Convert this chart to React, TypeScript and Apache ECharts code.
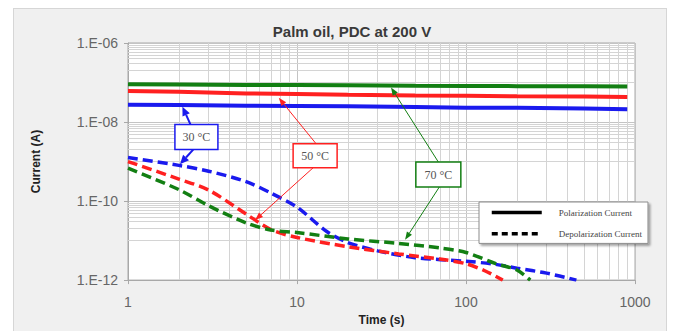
import React, { useEffect, useRef } from "react";
import * as echarts from "echarts";

// ---------- data ----------
const polarTime = [1, 2, 5, 10, 20, 50, 100, 200, 500, 900];
const polar30 = [2.75e-8, 2.7e-8, 2.6e-8, 2.55e-8, 2.5e-8, 2.4e-8, 2.3e-8, 2.3e-8, 2.2e-8, 2.1e-8];
const polar50 = [6.1e-8, 5.8e-8, 5.3e-8, 5.1e-8, 4.9e-8, 4.7e-8, 4.6e-8, 4.5e-8, 4.4e-8, 4.3e-8];
const polar70 = [9.0e-8, 8.9e-8, 8.7e-8, 8.6e-8, 8.5e-8, 8.3e-8, 8.2e-8, 8.1e-8, 8.0e-8, 7.9e-8];

const depolTime30 = [1, 2, 3, 5, 7, 10, 15, 20, 30, 50, 100, 150, 200, 300, 450];
const depol30 = [1.26e-9, 8e-10, 5.7e-10, 3.1e-10, 1.6e-10, 7e-11, 1.7e-11, 8.9e-12, 5.5e-12, 3.7e-12, 3.0e-12, 2.5e-12, 2.0e-12, 1.5e-12, 1.0e-12];

const depolTime50 = [1, 2, 3, 5, 7, 10, 20, 40, 70, 100, 130, 165];
const depol50 = [1.0e-9, 3.6e-10, 1.9e-10, 4.7e-11, 1.9e-11, 1.2e-11, 7e-12, 4.6e-12, 3.4e-12, 2.6e-12, 1.7e-12, 1.0e-12];

const depolTime70 = [1, 2, 3, 5, 7, 10, 20, 40, 70, 100, 150, 200, 240];
const depol70 = [6.8e-10, 1.95e-10, 7.6e-11, 2.8e-11, 1.85e-11, 1.6e-11, 1.1e-11, 8.5e-12, 6.5e-12, 5.0e-12, 2.6e-12, 1.8e-12, 1.0e-12];

const legendNames = ["Polarization Current", "Depolarization Current"];
const tempLabels = ["30 °C", "50 °C", "70 °C"];

// minor gridline values (multiples inside decades)
const yMinorDecades = [1e-11, 1e-9, 1e-7];
const yMinorMult = [1, 2, 3, 4, 5, 6, 7, 8, 9];
const xMinorDecades = [1, 10, 100];
const xMinorMult = [2, 3, 4, 5, 6, 7, 8, 9];
const xRange = [1, 1000];
const yRange = [1e-12, 1e-6];

// annotation anchors in data space [time, current]
const annBox = [[2.54, 4.2e-9], [12.8, 1.4e-9], [68.6, 4.7e-10]];
const annUpTip = [[2.1, 2.45e-8], [7.8, 4.1e-8], [36, 7.5e-8]];
const annDownTip = [[2.03, 8.6e-10], [5.65, 3.3e-11], [43.6, 1.05e-11]];

const BLUE = "#1a1aee";
const RED = "#ff2020";
const GREEN = "#137f13";
const COLORS = [BLUE, RED, GREEN];

const SANS = "'Liberation Sans', Arial, sans-serif";
const SERIF = "'Liberation Serif', 'DejaVu Serif', serif";

const zip = (xs: number[], ys: number[]) => xs.map((x, i) => [x, ys[i]]);

function solid(name: string, data: number[][], color: string) {
  return {
    name, type: "line", data, symbol: "none", z: 3, color,
    lineStyle: { width: 4, color },
  };
}
function dashed(name: string, data: number[][], color: string) {
  return {
    name, type: "line", data, symbol: "none", z: 3, color, smooth: 0.3,
    lineStyle: { width: 3.5, color, type: [10, 5], cap: "butt" },
  };
}

function buildOption() {
  const yMinor: number[] = [];
  yMinorDecades.forEach((d) => yMinorMult.forEach((m) => yMinor.push(m * d)));
  const xMinor: number[] = [];
  xMinorDecades.forEach((d) => xMinorMult.forEach((m) => xMinor.push(m * d)));
  const gridLines = [
    ...yMinor.map((v) => ({ coords: [[xRange[0], v], [xRange[1], v]] })),
    ...xMinor.map((v) => ({ coords: [[v, yRange[0]], [v, yRange[1]]] })),
  ];

  return {
    animation: false,
    title: {
      text: "Palm oil, PDC at 200 V",
      left: 347,
      top: 19,
      textAlign: "center",
      textStyle: { fontFamily: SANS, fontSize: 15, fontWeight: "bold", color: "#3a3a3a" },
    },
    grid: {
      left: 128, top: 43, width: 507, height: 246,
      show: true, backgroundColor: "#ffffff", borderColor: "#a8a8a8", borderWidth: 1,
    },
    legend: {
      orient: "vertical",
      left: 479,
      top: 202,
      data: legendNames,
      itemWidth: 50,
      itemHeight: 14,
      itemGap: 10,
      padding: [5, 6, 4, 11],
      backgroundColor: "#ffffff",
      borderColor: "#8c8c8c",
      borderWidth: 1,
      shadowColor: "rgba(0,0,0,0.35)",
      shadowBlur: 2,
      shadowOffsetX: 2,
      shadowOffsetY: 2,
      selectedMode: false,
      itemStyle: { opacity: 0 },
      lineStyle: { width: 3.5, opacity: 1 },
      textStyle: { fontFamily: SERIF, fontSize: 9, color: "#444", padding: [0, 0, 0, 12] },
    },
    xAxis: {
      type: "log", logBase: 10, min: xRange[0], max: xRange[1], interval: 1,
      name: "Time (s)", nameLocation: "middle", nameGap: 27,
      nameTextStyle: { fontFamily: SANS, fontSize: 12, fontWeight: "bold", color: "#222" },
      axisLine: { show: true, lineStyle: { color: "#a8a8a8" } },
      axisTick: { show: true, length: 4, lineStyle: { color: "#a8a8a8" } },
      axisLabel: {
        margin: 15, color: "#666", fontSize: 14, fontFamily: SANS,
        formatter: (v: number) => String(Math.round(v)),
      },
      splitLine: { show: true, lineStyle: { color: "#c4c4c4" } },
    },
    yAxis: {
      type: "log", logBase: 10, min: yRange[0], max: yRange[1], interval: 2,
      name: "Current (A)", nameLocation: "middle", nameGap: 86,
      nameTextStyle: { fontFamily: SANS, fontSize: 12, fontWeight: "bold", color: "#222" },
      axisLine: { show: true, lineStyle: { color: "#a8a8a8" } },
      axisTick: { show: true, length: 4, lineStyle: { color: "#a8a8a8" } },
      axisLabel: {
        margin: 10, color: "#666", fontSize: 14, fontFamily: SANS,
        formatter: (v: number) => {
          const e = Math.round(Math.log10(v));
          return "1.E" + (e < 0 ? "-" : "+") + String(Math.abs(e)).padStart(2, "0");
        },
      },
      splitLine: { show: true, lineStyle: { color: "#c4c4c4" } },
    },
    series: [
      {
        name: "minor grid", type: "lines", coordinateSystem: "cartesian2d",
        silent: true, z: 1, symbol: ["none", "none"],
        lineStyle: { color: "#d4d4d4", width: 1, opacity: 1, type: "solid" },
        data: gridLines,
      },
      solid("Polarization 30 °C", zip(polarTime, polar30), BLUE),
      solid("Polarization 50 °C", zip(polarTime, polar50), RED),
      solid("Polarization 70 °C", zip(polarTime, polar70), GREEN),
      dashed("Depolarization 30 °C", zip(depolTime30, depol30), BLUE),
      dashed("Depolarization 50 °C", zip(depolTime50, depol50), RED),
      dashed("Depolarization 70 °C", zip(depolTime70, depol70), GREEN),
      {
        name: legendNames[0], type: "line", data: [], symbol: "none", color: "#000",
        lineStyle: { width: 3.5, color: "#000", type: "solid" },
      },
      {
        name: legendNames[1], type: "line", data: [], symbol: "none", color: "#000",
        lineStyle: { width: 3.5, color: "#000", type: [6, 4] },
      },
    ],
  };
}

function arrow(t: number[], p: number[], color: string, lw: number, hl: number, hw: number) {
  const dx = p[0] - t[0];
  const dy = p[1] - t[1];
  const len = Math.hypot(dx, dy) || 1;
  const ux = dx / len;
  const uy = dy / len;
  const bx = p[0] - ux * hl;
  const by = p[1] - uy * hl;
  const nx = -uy * hw / 2;
  const ny = ux * hw / 2;
  return [
    { type: "line", z: 50, shape: { x1: t[0], y1: t[1], x2: bx, y2: by }, style: { stroke: color, lineWidth: lw } },
    {
      type: "polygon", z: 50,
      shape: { points: [[p[0], p[1]], [bx + nx, by + ny], [bx - nx, by - ny]] },
      style: { fill: color },
    },
  ];
}

function buildGraphic(chart: any) {
  const px = (v: number[]) => chart.convertToPixel({ gridIndex: 0 }, v) as number[];
  const sizes = [[43, 25], [44, 24], [45, 25]];
  const upDx = [-6, 1, 0];
  const downDx = [-3, -2, 1];
  const lws = [2, 1, 1];
  const els: any[] = [];
  annBox.forEach((a, i) => {
    const c = px(a);
    const [w, h] = sizes[i];
    const col = COLORS[i];
    const heavy = lws[i] > 1;
    els.push(...arrow([c[0] + upDx[i], c[1] - h / 2], px(annUpTip[i]), col, lws[i], heavy ? 9 : 8, heavy ? 8 : 6));
    els.push(...arrow([c[0] + downDx[i], c[1] + h / 2], px(annDownTip[i]), col, lws[i], heavy ? 9 : 8, heavy ? 8 : 6));
    els.push({
      type: "rect", z: 51,
      shape: { x: c[0] - w / 2, y: c[1] - h / 2, width: w, height: h },
      style: { fill: "#ffffff", stroke: col, lineWidth: 1.5 },
    });
    els.push({
      type: "text", z: 52, x: c[0], y: c[1],
      style: { text: tempLabels[i], fill: "#555", font: "12px " + SERIF, align: "center", verticalAlign: "middle" },
    });
  });
  return els;
}

export default function App() {
  const ref = useRef<HTMLDivElement>(null);
  useEffect(() => {
    document.body.style.margin = "0";
    const chart = echarts.init(ref.current as HTMLDivElement, null, { renderer: "svg" });
    chart.setOption(buildOption() as any);
    chart.setOption({ graphic: buildGraphic(chart) } as any);
    return () => chart.dispose();
  }, []);
  return (
    <div style={{ position: "relative", width: 675, height: 331, background: "#ffffff", overflow: "hidden" }}>
      <div
        style={{
          position: "absolute", left: 13, top: 8, width: 652, height: 340,
          background: "#f0f0f0", border: "1px solid #d6d6d6",
        }}
      />
      <div ref={ref} style={{ position: "absolute", left: 0, top: 0, width: 675, height: 331 }} />
    </div>
  );
}
